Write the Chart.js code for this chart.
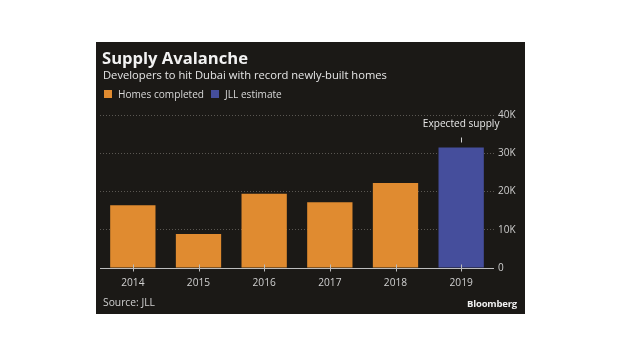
<!DOCTYPE html>
<html>
<head>
<meta charset="utf-8">
<script src="https://cdn.jsdelivr.net/npm/chart.js@4"></script>
<style>
  html, body { margin: 0; padding: 0; background: #ffffff; width: 620px; height: 355px; overflow: hidden; }
  #panel { position: absolute; left: 96px; top: 42px; width: 429px; height: 272px; background: #1b1916; font-family: "Open Sans", "DejaVu Sans", sans-serif; }
  #wrap { position: absolute; left: 0; top: 0; width: 429px; height: 272px; }
  .t { position: absolute; white-space: nowrap; color: #f2f2f2; }
  #title { left: 6px; top: 4px; font-size: 16.6px; font-weight: 700; }
  #sub { left: 7px; top: 25px; font-size: 11.2px; color: #e6e6e6; }
  #legend { left: 8px; top: 45px; font-size: 10.1px; color: #d8d8d8; }
  .sw { display: inline-block; width: 8px; height: 8px; margin-right: 6px; vertical-align: 0px; }
  .li { display: inline-block; margin-right: 7px; }
  #source { left: 7px; top: 253px; font-size: 10.3px; color: #cfcfcf; }
  #brand { right: 8px; top: 255px; font-size: 9.5px; font-weight: 700; color: #f0f0f0; letter-spacing: -0.2px; }
</style>
</head>
<body>
<div id="panel">
  <div id="wrap"><canvas id="c" width="429" height="272"></canvas></div>
  <div class="t" id="title">Supply Avalanche</div>
  <div class="t" id="sub">Developers to hit Dubai with record newly-built homes</div>
  <div class="t" id="legend"></div>
  <div class="t" id="source">Source: JLL</div>
  <div class="t" id="brand">Bloomberg</div>
</div>
<script>
const categories = ["2014", "2015", "2016", "2017", "2018", "2019"];
const homesCompleted = [16400, 8900, 19400, 17200, 22200, null];
const jllEstimate = [null, null, null, null, null, 31500];
const yTicks = [0, 10000, 20000, 30000, 40000];
const tickLabels = ["0", "10K", "20K", "30K", "40K"];
const seriesNames = ["Homes completed", "JLL estimate"];
const seriesColors = ["#e08b30", "#454e9c"];
const annotationText = "Expected supply";

// HTML legend
const lg = document.getElementById('legend');
seriesNames.forEach((n, i) => {
  const s = document.createElement('span');
  s.className = 'li';
  s.innerHTML = '<span class="sw" style="background:' + seriesColors[i] + '"></span>' + n;
  lg.appendChild(s);
});

const extras = {
  id: 'extras',
  afterDatasetsDraw(chart) {
    const ctx = chart.ctx;
    const x = chart.scales.x, y = chart.scales.y;
    const area = chart.chartArea;
    ctx.save();
    // baseline
    ctx.strokeStyle = '#bdbdbd';
    ctx.lineWidth = 1;
    ctx.beginPath();
    const y0 = Math.round(y.getPixelForValue(0)) + 0.5;
    ctx.moveTo(area.left, y0);
    ctx.lineTo(area.right, y0);
    ctx.stroke();
    // category ticks
    categories.forEach((c, i) => {
      const px = Math.round(x.getPixelForValue(i)) + 0.5;
      ctx.beginPath();
      ctx.moveTo(px, y0 - 4);
      ctx.lineTo(px, y0 + 3);
      ctx.stroke();
    });
    // annotation above last bar
    const meta = chart.getDatasetMeta(1);
    const bar = meta.data[5];
    if (bar) {
      ctx.fillStyle = '#e8e8e8';
      ctx.font = '10.1px "Open Sans", "DejaVu Sans", sans-serif';
      ctx.textAlign = 'center';
      ctx.textBaseline = 'middle';
      ctx.fillText(annotationText, bar.x, bar.y - 23);
      ctx.strokeStyle = '#d0d0d0';
      ctx.beginPath();
      ctx.moveTo(Math.round(bar.x) + 0.5, bar.y - 10);
      ctx.lineTo(Math.round(bar.x) + 0.5, bar.y - 5);
      ctx.stroke();
    }
    ctx.restore();
  }
};

new Chart(document.getElementById('c'), {
  type: 'bar',
  data: {
    labels: categories,
    datasets: [
      { label: seriesNames[0], data: homesCompleted, backgroundColor: seriesColors[0], categoryPercentage: 0.69, barPercentage: 1, skipNull: true },
      { label: seriesNames[1], data: jllEstimate, backgroundColor: seriesColors[1], categoryPercentage: 0.69, barPercentage: 1, skipNull: true }
    ]
  },
  options: {
    responsive: false,
    animation: false,
    layout: { padding: { left: 4, right: 0, top: 73, bottom: 0 } },
    plugins: { legend: { display: false }, tooltip: { enabled: false } },
    scales: {
      x: {
        grid: { display: false, drawTicks: false },
        border: { display: false },
        ticks: { color: '#d0d0d0', font: { size: 10.2, family: '"Open Sans", "DejaVu Sans", sans-serif' }, padding: 9 },
        afterFit(s) { s.height = 46; }
      },
      y: {
        position: 'right',
        min: 0, max: 40000,
        afterBuildTicks(s) { s.ticks = yTicks.map(v => ({ value: v })); },
        grid: {
          color: (c) => c.tick && c.tick.value === 0 ? 'rgba(0,0,0,0)' : '#5a5752',
          lineWidth: 1,
          drawTicks: false
        },
        border: { display: false, dash: [1, 2] },
        ticks: {
          color: '#cfcfcf',
          font: { size: 10, family: '"Open Sans", "DejaVu Sans", sans-serif' },
          padding: 4,
          crossAlign: 'near',
          callback: (v) => tickLabels[yTicks.indexOf(v)]
        },
        afterFit(s) { s.width = 31; }
      }
    }
  },
  plugins: [extras]
});
</script>
</body>
</html>
